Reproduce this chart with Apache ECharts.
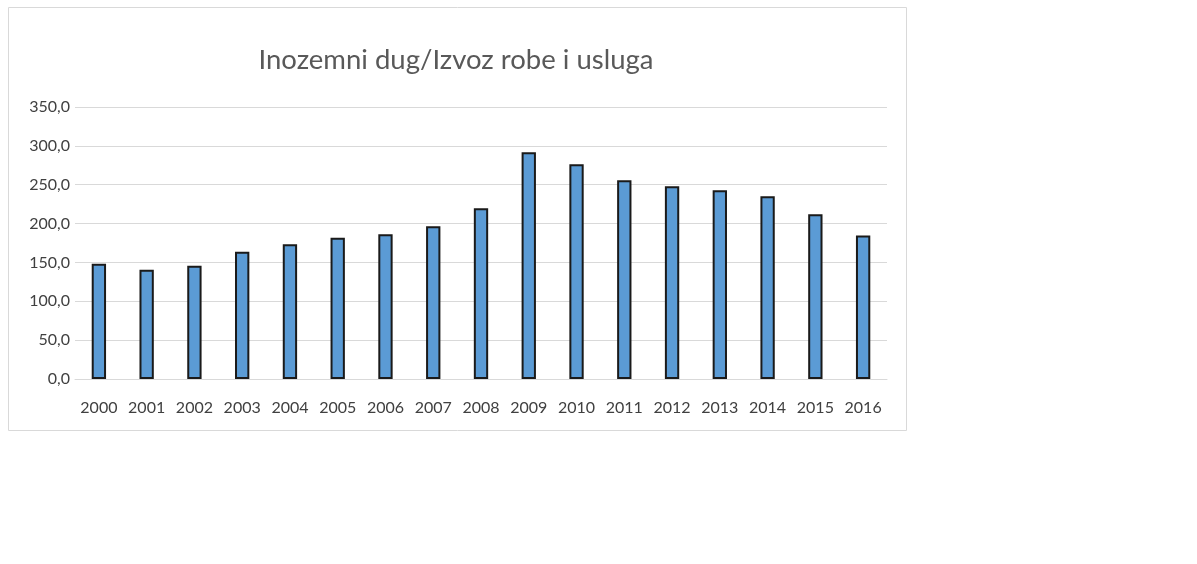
<!DOCTYPE html>
<html>
<head>
    <meta http-equiv="Content-Type" content="text/html; charset=utf-8" />
    <script src="https://cdn.jsdelivr.net/npm/echarts@6/dist/echarts.min.js"></script>
    <style>
        html, body { margin: 0; padding: 0; background: #fff; }
    </style>
</head>
<body>
<div id="chart" style="width: 1197px; height: 564px;"></div>
<script type="text/javascript">
    var years = ['2000', '2001', '2002', '2003', '2004', '2005', '2006', '2007', '2008',
                 '2009', '2010', '2011', '2012', '2013', '2014', '2015', '2016'];
    var ratio = [148.2, 140.5, 145.6, 163.6, 173.5, 181.6, 186.4, 196.7, 219.8,
                 291.8, 276.4, 255.8, 248.0, 243.0, 235.2, 212.0, 184.6];
    var yTicks = { min: 0, max: 350, step: 50 };

    var chart = echarts.init(document.getElementById('chart'));
    var option = {
        animation: false,
        textStyle: { fontFamily: 'Lato' },
        graphic: [{
            type: 'rect',
            shape: { x: 8.5, y: 7.5, width: 898, height: 423 },
            style: { fill: 'none', stroke: '#d9d9d9', lineWidth: 1 }
        }],
        title: {
            text: 'Inozemni dug/Izvoz robe i usluga',
            left: 451,
            textAlign: 'center',
            top: 41,
            textStyle: { fontFamily: 'Lato', fontSize: 27.5, fontWeight: 'normal', color: '#595959' }
        },
        grid: { left: 75, right: 310, top: 107, bottom: 185 },
        xAxis: {
            type: 'category',
            data: years,
            axisLine: { lineStyle: { color: '#d9d9d9', width: 1 } },
            axisTick: { show: false },
            axisLabel: { color: '#404040', fontSize: 16, margin: 21, interval: 0 }
        },
        yAxis: {
            type: 'value',
            min: yTicks.min,
            max: yTicks.max,
            interval: yTicks.step,
            axisLine: { show: false },
            axisTick: { show: false },
            splitLine: { lineStyle: { color: '#d9d9d9', width: 1 } },
            axisLabel: {
                color: '#404040',
                fontSize: 16,
                margin: 5,
                formatter: function (v) { return v.toFixed(1).replace('.', ','); }
            }
        },
        series: [{
            type: 'bar',
            data: ratio,
            barWidth: '30%',
            itemStyle: { color: '#5b9bd5', borderColor: '#1a1a1a', borderWidth: 2 }
        }]
    };
    chart.setOption(option);
</script>
</body>
</html>
